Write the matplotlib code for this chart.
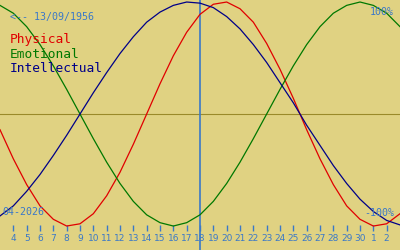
import matplotlib
matplotlib.use("Agg")
import matplotlib.pyplot as plt

# days shown: 3 april .. 3 may 2026 (31 = 1 may, 32 = 2 may, 33 = 3 may)
days = list(range(3, 34))
physical = [-0.14, -0.40, -0.63, -0.82, -0.94, -1.00, -0.98, -0.89, -0.73, -0.52,
            -0.27, 0.00, 0.27, 0.52, 0.73, 0.89, 0.98, 1.00, 0.94, 0.82,
            0.63, 0.40, 0.14, -0.14, -0.40, -0.63, -0.82, -0.94, -1.00, -0.98,
            -0.89]
emotional = [0.97, 0.90, 0.78, 0.62, 0.43, 0.22, 0.00, -0.22, -0.43, -0.62,
             -0.78, -0.90, -0.97, -1.00, -0.97, -0.90, -0.78, -0.62, -0.43, -0.22,
             0.00, 0.22, 0.43, 0.62, 0.78, 0.90, 0.97, 1.00, 0.97, 0.90,
             0.78]
intellectual = [-0.91, -0.82, -0.69, -0.54, -0.37, -0.19, 0.00, 0.19, 0.37, 0.54,
                0.69, 0.82, 0.91, 0.97, 1.00, 0.99, 0.95, 0.87, 0.76, 0.62,
                0.46, 0.28, 0.10, -0.10, -0.28, -0.46, -0.62, -0.76, -0.87, -0.95,
                -0.99]
tick_days = list(range(4, 33))
tick_labels = [str(d) if d <= 30 else str(d - 30) for d in tick_days]
today = 18
birth = "<-- 13/09/1956"
month = "04-2026"

bg = "#e0d282"
accent = "#3a78c8"

fig = plt.figure(figsize=(4, 2.5), dpi=100)
fig.patch.set_facecolor(bg)
ax = fig.add_axes([0, 0, 1, 1])
ax.set_facecolor(bg)

ax.axhline(0, color="#9a8a2a", lw=0.8)
ax.axvline(today, color=accent, lw=1.2)

ax.plot(days, physical, color="#e00000", lw=0.9)
ax.plot(days, emotional, color="#007800", lw=0.9)
ax.plot(days, intellectual, color="#000088", lw=0.9)

ax.set_xlim(3, 33)
ax.set_ylim(-1.214, 1.018)

for s in ax.spines.values():
    s.set_visible(False)
ax.spines["bottom"].set_position(("axes", 19 / 250))
ax.set_yticks([])
ax.set_xticks(tick_days)
ax.set_xticklabels(tick_labels)
ax.tick_params(axis="x", direction="in", length=4.3, width=1.0, color=accent,
               labelcolor=accent, labelsize=6.5, pad=2.5)

mono = "DejaVu Sans Mono"
ax.text(10 / 400, 1 - 17 / 250, birth, transform=ax.transAxes, color=accent,
        family=mono, fontsize=7.2, va="center")
ax.text(10 / 400, 1 - 39 / 250, "Physical", transform=ax.transAxes, color="#e00000",
        family=mono, fontsize=9.3, va="center")
ax.text(10 / 400, 1 - 54 / 250, "Emotional", transform=ax.transAxes, color="#007800",
        family=mono, fontsize=9.3, va="center")
ax.text(10 / 400, 1 - 69 / 250, "Intellectual", transform=ax.transAxes, color="#000088",
        family=mono, fontsize=9.3, va="center")
ax.text(394 / 400, 1 - 12 / 250, "100%", transform=ax.transAxes, color=accent,
        family=mono, fontsize=7.2, va="center", ha="right")
ax.text(394 / 400, 1 - 213 / 250, "-100%", transform=ax.transAxes, color=accent,
        family=mono, fontsize=7.2, va="center", ha="right")
ax.text(2 / 400, 1 - 212 / 250, month, transform=ax.transAxes, color=accent,
        family=mono, fontsize=7.2, va="center")

fig.savefig("out.png", dpi=100, facecolor=bg)
